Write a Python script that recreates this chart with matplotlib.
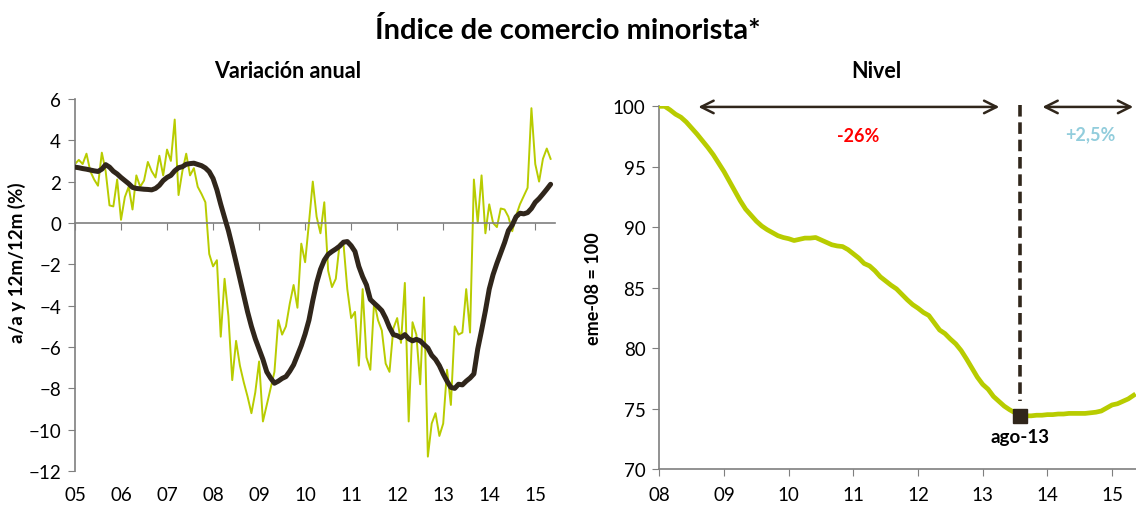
import numpy as np
import matplotlib
matplotlib.use('Agg')
import matplotlib.pyplot as plt

plt.rcParams['font.family'] = ['Lato', 'DejaVu Sans']

# --- data: variación anual (%), mensual ene-05 .. may-15
yoy = [2.85, 3.05, 2.85, 3.35, 2.5, 2.1, 1.8, 3.4, 2.5, 0.85, 0.8, 2.1,
       0.15, 1.25, 1.75, 0.65, 2.3, 1.75, 2.05, 2.95, 2.5, 2.2, 3.25, 2.3,
       3.55, 3.0, 5.0, 1.35, 2.5, 3.35, 2.3, 2.65, 1.75, 1.4, 1.0, -1.5,
       -2.1, -1.8, -5.5, -2.7, -4.5, -7.6, -5.7, -6.9, -7.7, -8.4, -9.2, -8.2,
       -6.7, -9.6, -8.8, -8.0, -7.2, -4.7, -5.4, -5.0, -3.9, -3.0, -4.1, -1.0,
       -1.9, 0.0, 2.0, 0.3, -0.5, 1.0, -2.3, -3.1, -2.7, -1.0, -1.0, -3.2,
       -4.6, -4.3, -6.9, -3.2, -6.5, -7.1, -3.8, -4.7, -5.2, -6.8, -7.2, -5.1,
       -4.6, -5.8, -2.9, -9.6, -4.8, -5.4, -7.8, -3.6, -11.3, -9.7, -9.2, -10.3,
       -9.7, -7.1, -8.8, -5.0, -5.4, -5.3, -3.2, -5.3, 2.1, 0.0, 2.3, -0.5,
       0.9, 0.0, -0.2, 0.7, 0.65, 0.3, -0.4, 0.35, 0.9, 1.3, 1.7, 5.55,
       2.85, 2.0, 3.1, 3.6, 3.1]
# 12m/12m
avg12 = [2.7, 2.67, 2.63, 2.6, 2.56, 2.52, 2.49, 2.6, 2.82, 2.7, 2.5, 2.37,
         2.2, 2.05, 1.9, 1.72, 1.67, 1.65, 1.63, 1.62, 1.6, 1.67, 1.82, 2.05,
         2.2, 2.3, 2.52, 2.67, 2.72, 2.84, 2.87, 2.89, 2.83, 2.77, 2.66, 2.48,
         2.15, 1.6, 0.9, 0.26, -0.37, -1.12, -1.9, -2.7, -3.5, -4.3, -5.0, -5.6,
         -6.1, -6.6, -7.2, -7.5, -7.75, -7.65, -7.52, -7.43, -7.17, -6.86, -6.4, -5.93,
         -5.37, -4.7, -3.75, -2.9, -2.25, -1.8, -1.52, -1.38, -1.26, -1.12, -0.93, -0.9,
         -1.1, -1.38, -2.1, -2.6, -3.0, -3.7, -3.88, -4.05, -4.24, -4.6, -5.05, -5.4,
         -5.45, -5.55, -5.4, -5.6, -5.7, -5.63, -5.7, -5.88, -6.05, -6.4, -6.6, -6.9,
         -7.3, -7.65, -7.95, -8.0, -7.8, -7.83, -7.65, -7.5, -7.3, -6.1, -5.2, -4.25,
         -3.2, -2.5, -1.95, -1.45, -0.95, -0.37, -0.1, 0.3, 0.47, 0.44, 0.5, 0.7,
         1.0, 1.18, 1.4, 1.63, 1.87]
# nivel, ene-08 = 100, ene-08 .. may-15
nivel = [100.0, 100.0, 99.7, 99.35, 99.1, 98.7, 98.2, 97.7, 97.15, 96.6, 96.0, 95.3,
         94.6, 93.8, 93.0, 92.2, 91.5, 91.0, 90.5, 90.1, 89.8, 89.55, 89.3, 89.15,
         89.05, 88.9, 89.0, 89.1, 89.1, 89.15, 88.95, 88.75, 88.55, 88.45, 88.4, 88.15,
         87.8, 87.45, 87.0, 86.8, 86.4, 85.9, 85.55, 85.2, 84.9, 84.45, 84.0, 83.6,
         83.3, 82.95, 82.7, 82.1, 81.5, 81.2, 80.75, 80.35, 79.8, 79.1, 78.35, 77.6,
         77.0, 76.6, 76.0, 75.6, 75.2, 74.9, 74.65, 74.35, 74.4, 74.4, 74.45, 74.45,
         74.5, 74.5, 74.55, 74.55, 74.6, 74.6, 74.6, 74.6, 74.65, 74.7, 74.8, 75.05,
         75.3, 75.4, 75.6, 75.8, 76.1]
years_left = list(range(2005, 2016))
years_right = list(range(2008, 2016))
min_date = 2013 + 7 / 12   # ago-13
min_label = 'ago-13'
caida = '-26%'
subida = '+2,5%'

t_left = 2005 + np.arange(len(yoy)) / 12
t_right = 2008 + np.arange(len(nivel)) / 12

GREEN = '#b8cc00'
BROWN = '#30261b'
GRAY = '#7f7f7f'

fig = plt.figure(figsize=(11.36, 5.06), dpi=100)
fig.text(0.5, 0.94, 'Índice de comercio minorista*', ha='center', va='center',
         fontsize=21, fontweight='bold')
fig.text(288 / 1136, 1 - 72 / 506, 'Variación anual', ha='center', va='center',
         fontsize=15.5, fontweight='bold')
fig.text(876 / 1136, 1 - 72 / 506, 'Nivel', ha='center', va='center',
         fontsize=15.5, fontweight='bold')

# ---------------- left panel
ax = fig.add_axes([0.066, 0.067, 0.4226, 0.7356])
ax.plot(t_left, yoy, color=GREEN, lw=1.4, zorder=2)
ax.plot(t_left, avg12, color=BROWN, lw=3.6, zorder=3, solid_capstyle='round')
ax.set_xlim(2005, 2015.43)
ax.set_ylim(-12, 6)
ax.set_yticks(np.arange(-12, 7, 2))
ax.set_xticks(years_left)
for s in ['top', 'right']:
    ax.spines[s].set_visible(False)
ax.spines['bottom'].set_position(('data', 0))
for s in ['bottom', 'left']:
    ax.spines[s].set_color(GRAY)
    ax.spines[s].set_linewidth(1.2)
ax.tick_params(axis='x', direction='out', length=5, color=GRAY, labelbottom=False)
ax.tick_params(axis='y', direction='out', length=5, color=GRAY, labelsize=13.5, pad=5)
sec = ax.secondary_xaxis('bottom')
sec.set_xticks(years_left)
sec.set_xticklabels([f'{y % 100:02d}' for y in years_left])
sec.spines['bottom'].set_visible(False)
sec.tick_params(length=0, labelsize=13.5, pad=11)
ax.set_ylabel('a/a y 12m/12m (%)', fontsize=13.5, fontweight='bold')
ax.yaxis.set_label_coords(-0.102, 0.562)

# ---------------- right panel
ax2 = fig.add_axes([0.5804, 0.0711, 0.4196, 0.7168])
ax2.plot(t_right, nivel, color=GREEN, lw=3.4, zorder=3)
ax2.set_xlim(2008, 2015.37)
ax2.set_ylim(70, 100)
ax2.set_yticks(np.arange(70, 101, 5))
ax2.set_xticks(years_right)
ax2.set_xticklabels([f'{y % 100:02d}' for y in years_right])
for s in ['top', 'right']:
    ax2.spines[s].set_visible(False)
for s in ['bottom', 'left']:
    ax2.spines[s].set_color(GRAY)
    ax2.spines[s].set_linewidth(1.2)
ax2.tick_params(direction='out', length=5, color=GRAY, labelsize=13.5)
ax2.tick_params(axis='x', pad=7)
ax2.tick_params(axis='y', pad=5)
ax2.set_ylabel('eme-08 = 100', fontsize=13, fontweight='bold', labelpad=8)

i_min = int(np.argmin(nivel))
ax2.plot([min_date, min_date], [100.1, 75.6], color=BROWN, lw=2.6,
         ls=(0, (3.2, 1.6)), zorder=4, clip_on=False)
ax2.plot(t_right[i_min], nivel[i_min], 's', color=BROWN, ms=10, zorder=5)
ax2.text(min_date, 72.7, min_label, ha='center', va='center',
         fontsize=13.5, fontweight='bold')
arrow_kw = dict(arrowstyle='<->,head_length=0.9,head_width=0.45', color=BROWN, lw=1.8)
ax2.annotate('', xy=(2008.56, 99.95), xytext=(2013.3, 99.95),
             arrowprops=arrow_kw, annotation_clip=False)
ax2.annotate('', xy=(2013.88, 99.95), xytext=(2015.37, 99.95),
             arrowprops=arrow_kw, annotation_clip=False)
ax2.text(2011.07, 97.55, caida, color='#ff0000', ha='center', va='center',
         fontsize=13, fontweight='bold')
ax2.text(2014.66, 97.7, subida, color='#92cddc', ha='center', va='center',
         fontsize=13, fontweight='bold')

fig.savefig('out.png', dpi=100)
